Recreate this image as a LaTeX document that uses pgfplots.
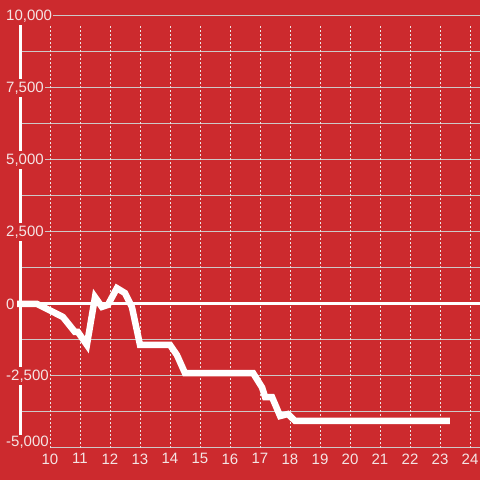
\documentclass[border=0pt]{standalone}
\usepackage{fontspec}
\setmainfont{Liberation Sans}
\usepackage{pgfplots}
\pgfplotsset{compat=1.18}
\definecolor{bgred}{RGB}{204,42,46}
\definecolor{lbl}{RGB}{245,228,228}
\definecolor{hgrid}{RGB}{205,200,200}
\definecolor{vgrid}{RGB}{235,228,228}
\begin{document}
\begin{tikzpicture}[x=1pt,y=1pt]
\useasboundingbox (0,0) rectangle (480,480);
\fill[bgred] (0,0) rectangle (480,480);
\begin{axis}[
  at={(20pt,32pt)}, anchor=south west,
  scale only axis, width=460pt, height=432pt,
  xmin=9, xmax=24.3333, ymin=-5000, ymax=10000,
  clip=false, axis on top,
  scaled ticks=false,
  axis line style={draw=none},
  major tick length=0pt,
  xtick={10,...,24},
  xticklabels={10,11,12,13,14,15,16,17,18,19,20,21,22,23,24},
  ytick={-5000,-2500,0,2500,5000,7500,10000},
  yticklabels={{\raisebox{1pt}[0pt][0pt]{-5,000}},{-2,500},{0},{2,500},{5,000},{7,500},{10,000}},
  tick label style={font=\fontsize{15pt}{17pt}\selectfont, text=lbl},
  yticklabel style={anchor=west, xshift=-15pt, fill=bgred, inner xsep=1pt, inner ysep=3pt},
  xticklabel style={yshift=-2pt},
]
% horizontal grid
\foreach \v in {-3750,-2500,-1250,1250,2500,3750,5000,6250,7500,8750}{
  \edef\tmp{\noexpand\draw[hgrid, line width=1pt] (axis cs:9.0667,\v) -- (axis cs:24.3333,\v);}\tmp
}
\draw[hgrid, line width=1pt] (axis cs:10.0,-5000) -- (axis cs:24.3333,-5000);
\draw[hgrid, line width=1pt] (axis cs:10.1,10000) -- (axis cs:24.3333,10000);
% vertical dotted grid
\foreach \u in {10,...,24}{
  \edef\tmp{\noexpand\draw[vgrid, line width=1pt, dash pattern=on 2pt off 2pt] (axis cs:\u,-5000) -- (axis cs:\u,9722);}\tmp
}
% zero line
\draw[white, line width=3pt] (axis cs:8.9,0) -- (axis cs:24.3333,0);
% y axis bar
\draw[white, line width=3pt] (axis cs:9.0167,-4550) -- (axis cs:9.0167,9722);
\addplot[white, line width=6.5pt, mark=none] coordinates {
(8.9,0) (9.57,0) (10.43,-450) (10.83,-970) (10.93,-970) (11.23,-1420)
(11.5,240) (11.73,-100) (11.93,-30) (12.23,550) (12.5,380) (12.73,-100)
(13.0,-1420) (14.0,-1420) (14.23,-1770) (14.5,-2400) (16.77,-2400)
(17.07,-2900) (17.17,-3230) (17.4,-3230) (17.67,-3890) (17.93,-3820)
(18.17,-4060) (23.33,-4060)
};
\end{axis}
\end{tikzpicture}
\end{document}
